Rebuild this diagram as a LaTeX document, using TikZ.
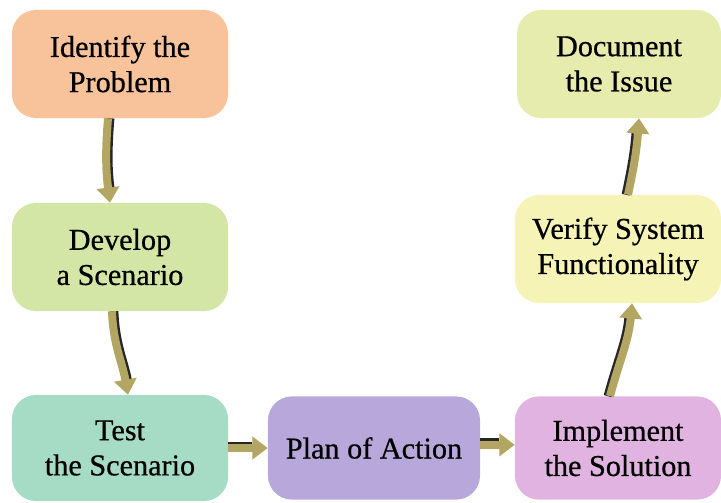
\documentclass[tikz,border=0pt]{standalone}
\usepackage{fontspec}
\setmainfont{Liberation Serif}
\newfontfamily\boxfont{Liberation Serif}[FakeBold=0.6]
\usetikzlibrary{arrows.meta}

\definecolor{cIdf}{HTML}{F8C39B}
\definecolor{cDev}{HTML}{D3E6A6}
\definecolor{cTst}{HTML}{A6DCC6}
\definecolor{cPln}{HTML}{B7A7DA}
\definecolor{cImp}{HTML}{E0B3E0}
\definecolor{cVer}{HTML}{F5F3B5}
\definecolor{cDoc}{HTML}{E6EBAE}
\definecolor{cArrow}{HTML}{B3A662}

\begin{document}
\begin{tikzpicture}[x=0.025cm, y=-0.025cm,
	box/.style={rounded corners=0.6cm, align=center, inner sep=2pt, font=\boxfont\fontsize{21.5}{25}\selectfont},
	flow/.style={line width=0.2cm, draw=cArrow, -{Triangle[width=0.55cm, length=0.38cm]},
		preaction={draw=black!85, line width=0.2cm, -, shorten >=0.38cm, transform canvas={shift={#1}}}}]
	\useasboundingbox (0,0) rectangle (721,502);
	% steps of the procedure
	\foreach \nm/\x/\y/\w/\h/\col/\txt in {
		idf/120/64/5.4/2.7/cIdf/{Identify the\\Problem},
		dev/120/257/5.4/2.7/cDev/{Develop\\a Scenario},
		tst/120/448/5.4/2.65/cTst/{Test\\the Scenario},
		pln/374/448/5.3/2.58/cPln/{Plan of Action},
		imp/618/448/5.15/2.58/cImp/{Implement\\the Solution},
		ver/618/249/5.15/2.7/cVer/{Verify System\\Functionality},
		doc/619/64/5.1/2.7/cDoc/{Document\\the Issue}} {
		\node[box, fill=\col, minimum width=\w cm, minimum height=\h cm] (\nm) at (\x,\y) {\txt};
	}
	% connectors
	\draw[flow={(0.06cm,0)}] ([xshift=-0.3cm]idf.south) to[bend right=6] ([xshift=-0.25cm]dev.north);
	\draw[flow={(0.06cm,0)}] ([xshift=-0.2cm]dev.south) to[out=-88, in=100] ([xshift=0.2cm]tst.north);
	\draw[flow={(0,0.06cm)}] (tst.east) -- (pln.west);
	\draw[flow={(0,0.06cm)}] ([yshift=0.08cm]pln.east) -- ([yshift=0.08cm]imp.west);
	\draw[flow={(-0.06cm,0)}] ([xshift=-0.2cm]imp.north) to[out=75, in=-95] ([xshift=0.35cm]ver.south);
	\draw[flow={(-0.06cm,0)}] ([xshift=0.25cm]ver.north) to[bend right=4] ([xshift=0.5cm]doc.south);
\end{tikzpicture}
\end{document}
